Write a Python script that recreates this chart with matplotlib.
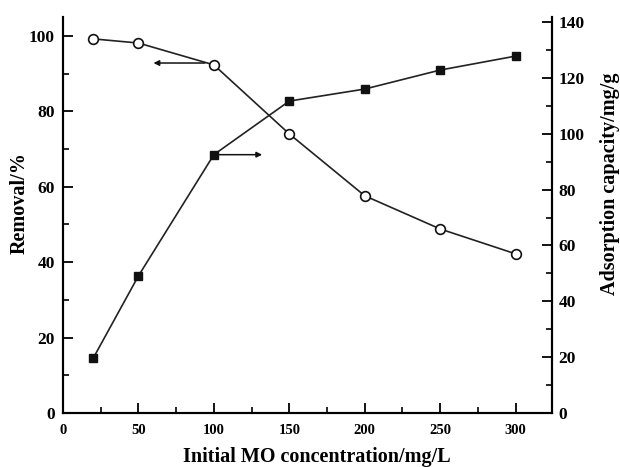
import matplotlib
matplotlib.use("Agg")
import matplotlib.pyplot as plt
from matplotlib.ticker import MultipleLocator

conc = [20, 50, 100, 150, 200, 250, 300]
removal = [99.2, 98.1, 92.3, 74.0, 57.6, 48.8, 42.2]
capacity = [19.6, 49.1, 92.5, 111.7, 116.0, 122.8, 127.8]

plt.rcParams['font.family'] = ['Liberation Serif', 'DejaVu Serif']
plt.rcParams['font.weight'] = 'bold'

fig = plt.figure(figsize=(6.2, 4.67), dpi=100)
ax = fig.add_axes([0.1016, 0.1156, 0.7884, 0.848])
ax2 = ax.twinx()

ax.plot(conc, removal, '-', color='#222222', lw=1.2, marker='o', ms=7,
        mfc='white', mec='#111111', mew=1.2, zorder=3)
ax2.plot(conc, capacity, '-', color='#222222', lw=1.2, marker='s', ms=5.5,
         mfc='#111111', mec='#111111', zorder=3)

ax.set_xlim(0, 324)
ax.set_ylim(0, 105)
ax2.set_ylim(0, 141.8)

ax.xaxis.set_major_locator(MultipleLocator(50))
ax.xaxis.set_minor_locator(MultipleLocator(25))
ax.yaxis.set_major_locator(MultipleLocator(20))
ax.yaxis.set_minor_locator(MultipleLocator(10))
ax2.yaxis.set_major_locator(MultipleLocator(20))
ax2.yaxis.set_minor_locator(MultipleLocator(10))

for a in (ax, ax2):
    a.spines['top'].set_visible(False)
    for s in a.spines.values():
        s.set_linewidth(1.5)
ax.tick_params(axis='both', which='major', direction='in', length=7, width=1.3)
ax.tick_params(axis='both', which='minor', direction='in', length=4, width=1.2)
ax2.tick_params(axis='y', which='major', direction='in', length=7, width=1.3,
                labelsize=12.5, pad=5)
ax2.tick_params(axis='y', which='minor', direction='in', length=4, width=1.2)
ax.tick_params(axis='y', labelsize=12.5, pad=6)
ax.tick_params(axis='x', labelsize=10.5, pad=8)

ax.set_xlabel('Initial MO concentration/mg/L', fontsize=14.5, fontweight='bold')
ax.set_ylabel('Removal/%', fontsize=14.5, fontweight='bold')
ax2.set_ylabel('Adsorption capacity/mg/g', fontsize=14.5, fontweight='bold',
               rotation=90)
ax.xaxis.set_label_coords(0.52, -0.085)
ax.yaxis.set_label_coords(-0.068, 0.53)
ax2.yaxis.set_label_coords(1.099, 0.58)

ax.annotate('', xy=(60, 92.8), xytext=(94, 92.8),
            arrowprops=dict(arrowstyle='-|>', color='#111111', lw=1.1,
                            mutation_scale=8, shrinkA=0, shrinkB=0))
ax2.annotate('', xy=(132, 92.5), xytext=(103, 92.5),
             arrowprops=dict(arrowstyle='-|>', color='#111111', lw=1.1,
                             mutation_scale=8, shrinkA=0, shrinkB=0))

fig.savefig('out.png', dpi=100)
